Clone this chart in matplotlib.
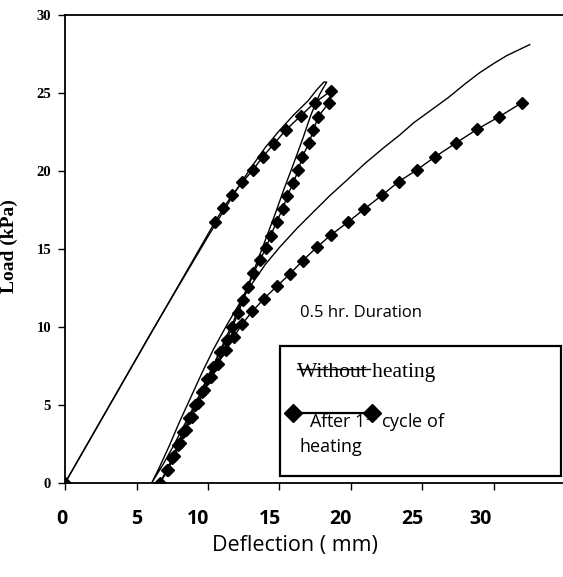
import matplotlib
matplotlib.use("Agg")
import matplotlib.pyplot as plt
from matplotlib.lines import Line2D
from matplotlib.patches import Rectangle
from matplotlib.transforms import ScaledTranslation

plt.rcParams['mathtext.fontset'] = 'custom'
plt.rcParams['mathtext.rm'] = 'Open Sans'

# "Without heating" : loading, unloading, reloading
plain_x = [0, 2, 4, 6, 7.8, 10, 11, 12, 13, 14, 15, 16, 17, 17.6, 18.1, 18.3,
           17.8, 17.2, 16.6, 16.0, 15.3, 14.6, 13.9, 13.2, 12.5, 11.8, 11.0, 10.2,
           9.4, 8.5, 7.6, 6.8, 6.06,
           6.6, 7.3, 8.0, 8.8, 9.6, 10.4, 11.3, 12.2, 13.1, 14.0, 15.0, 16.2, 17.4,
           18.5, 19.7, 21.0, 22.3, 23.4, 24.4, 25.6, 26.8, 28.0, 29.0, 30.0, 30.9,
           32.5]
plain_y = [0, 3.2, 6.4, 9.6, 12.4, 15.8, 17.3, 18.8, 20.2, 21.5, 22.6, 23.6, 24.5,
           25.2, 25.7, 25.7,
           24.9, 23.6, 22.0, 20.5, 18.8, 17.0, 15.3, 13.6, 12.0, 10.4, 8.8, 7.2,
           5.6, 4.0, 2.4, 1.1, 0,
           1.0, 2.4, 3.9, 5.5, 7.1, 8.6, 10.1, 11.5, 12.8, 14.0, 15.1, 16.3, 17.4,
           18.4, 19.4, 20.5, 21.5, 22.3, 23.1, 23.9, 24.7, 25.6, 26.3, 26.9, 27.4,
           28.1]

# "After 1st cycle of heating"
heat_x = [0, 10.5, 11.07, 11.68, 12.4, 13.12, 13.82, 14.62, 15.45, 16.48, 17.46,
          18.6,
          18.46, 17.71, 17.37, 17.06, 16.6, 16.32, 15.97, 15.55, 15.22, 14.8, 14.38,
          14.06, 13.64, 13.17, 12.82, 12.45, 12.12, 11.7, 11.31, 10.84, 10.37, 9.9,
          9.55, 9.09, 8.69, 8.27, 7.9, 7.5, 7.1, 6.64,
          7.2, 7.62, 8.05, 8.45, 8.85, 9.3, 9.75, 10.2, 10.7, 11.25, 11.8, 12.4,
          13.1, 13.9, 14.8, 15.73, 16.62, 17.6, 18.6, 19.77, 20.93, 22.19, 23.33,
          24.59, 25.9, 27.32, 28.81, 30.37, 31.96]
heat_y = [0, 16.75, 17.61, 18.44, 19.28, 20.04, 20.9, 21.75, 22.63, 23.53, 24.38,
          25.13,
          24.38, 23.48, 22.63, 21.78, 20.92, 20.06, 19.25, 18.42, 17.56, 16.75, 15.85,
          15.08, 14.29, 13.44, 12.58, 11.75, 10.88, 10.0, 9.17, 8.42, 7.46, 6.65,
          5.85, 5.0, 4.15, 3.29, 2.44, 1.6, 0.8, 0,
          0.85, 1.7, 2.55, 3.4, 4.25, 5.1, 5.95, 6.8, 7.65, 8.5, 9.35, 10.2, 11.0,
          11.8, 12.6, 13.4, 14.25, 15.1, 15.9, 16.71, 17.56, 18.46, 19.31, 20.06,
          20.92, 21.78, 22.67, 23.48, 24.38]

x_ticks = [0, 5, 10, 15, 20, 25, 30]
y_ticks = [0, 5, 10, 15, 20, 25, 30]
# the original x labels sit a little off their tick marks (pixels)
x_label_shift = [-3, 0, -10, -9, -11, -10, -13]

fig = plt.figure(figsize=(5.63, 5.77), dpi=100)
ax = fig.add_axes([0.1155, 0.163, 0.8845, 0.811])

ax.plot(plain_x, plain_y, color='black', lw=1.0)
ax.plot(heat_x, heat_y, color='black', lw=1.0, marker='D', ms=6.3)

ax.set_xlim(0, 34.83)
ax.set_ylim(0, 30)
ax.set_xticks(x_ticks)
ax.set_yticks(y_ticks)
ax.set_xticklabels([str(v) for v in x_ticks], fontfamily='Open Sans',
                   fontweight='bold', fontsize=14)
ax.set_yticklabels([str(v) for v in y_ticks], fontfamily='Liberation Serif',
                   fontweight='bold', fontsize=10.5)
ax.tick_params(axis='x', direction='out', length=5, width=1, pad=14)
ax.tick_params(axis='y', direction='out', length=5, width=1, pad=5)
for lab, dx in zip(ax.get_xticklabels(), x_label_shift):
    lab.set_transform(lab.get_transform() +
                      ScaledTranslation(dx / 100, 0, fig.dpi_scale_trans))

ax.spines['right'].set_visible(False)
for side in ['left', 'bottom', 'top']:
    ax.spines[side].set_linewidth(1.3)

ax.set_xlabel('Deflection ( mm)', fontfamily='Open Sans', fontsize=15.5)
ax.xaxis.set_label_coords(0.462, -0.112)
ax.set_ylabel('Load (kPa)', fontfamily='Liberation Serif', fontweight='bold',
              fontsize=14)
ax.yaxis.set_label_coords(-0.094, 0.506)

ax.text(0.472, 0.363, '0.5 hr. Duration', transform=ax.transAxes,
        fontfamily='Open Sans', fontsize=12, va='center', ha='left')

# hand-drawn legend box as in the original
ax.add_patch(Rectangle((0.432, 0.015), 0.564, 0.278, transform=ax.transAxes,
                       fill=False, lw=1.6, ec='black', clip_on=False))
ax.add_line(Line2D([0.466, 0.612], [0.2436, 0.2436], transform=ax.transAxes,
                   color='black', lw=1.0))
ax.text(0.466, 0.236, 'Without heating', transform=ax.transAxes,
        fontfamily='Liberation Serif', fontsize=15.5, va='center', ha='left')
ax.add_line(Line2D([0.458, 0.617], [0.150, 0.150], transform=ax.transAxes,
                   color='black', lw=1.6, marker='D', ms=9.5))
ax.text(0.49, 0.130, r'After 1$^{\mathrm{st}}$ cycle of', transform=ax.transAxes,
        fontfamily='Open Sans', fontsize=13, va='center', ha='left')
ax.text(0.47, 0.077, 'heating', transform=ax.transAxes,
        fontfamily='Open Sans', fontsize=13, va='center', ha='left')

fig.savefig('out.png', dpi=100)
